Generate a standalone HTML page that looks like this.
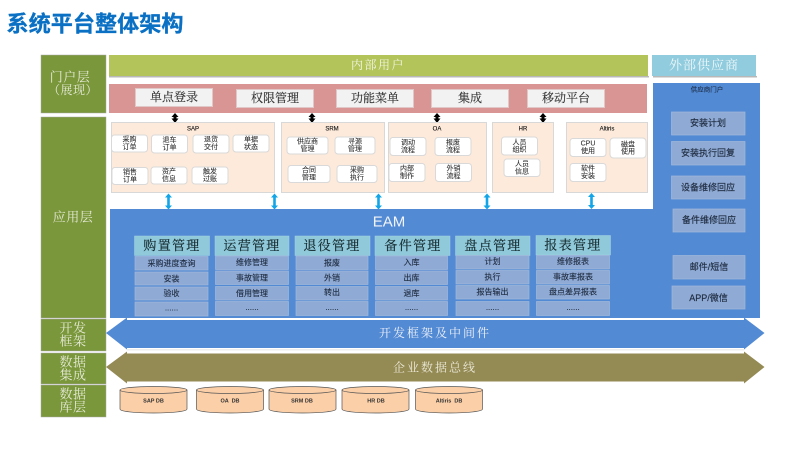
<!DOCTYPE html>
<html lang="zh"><head><meta charset="utf-8"><title>系统平台整体架构</title>
<style>
html,body{margin:0;padding:0;background:#fff}
svg{display:block;font-family:"Liberation Sans","Noto Sans CJK SC",sans-serif;filter:blur(.35px)}
text{text-anchor:middle;dominant-baseline:central}
.se{font-family:"Liberation Serif","Noto Serif CJK SC",serif}
.lay{fill:#7a973b;stroke:#a9a9a9;stroke-width:.5}
.lt{fill:#e6ead8;font-size:13px;letter-spacing:.5px;font-family:"Liberation Serif","Noto Serif CJK SC",serif}
.btn{fill:#f2f2f2;stroke:#e0c8c8;stroke-width:1}
.bt{font-size:12px;fill:#333;font-family:"Liberation Serif","Noto Serif CJK SC",serif;stroke:#333;stroke-width:.15}
.app{fill:#fdeadb;stroke:#d8d8d8;stroke-width:1}
.at{font-size:6px;fill:#111;stroke:#111;stroke-width:.12}
.sm{fill:#fff;stroke:#d9d9d9;stroke-width:1}
.st{font-size:7px;fill:#333;stroke:#333;stroke-width:.1}
.rb{fill:#8faad4;stroke:#a3b8da;stroke-width:.7}
.rt{font-size:9px;fill:#1f2c40;stroke:#1f2c40;stroke-width:.15}
.ch{fill:#8fc9da;stroke:#a5d4e2;stroke-width:.5}
.ct{font-size:13px;letter-spacing:1.3px;fill:#14282c;stroke:#14282c;stroke-width:.15;font-family:"Liberation Serif","Noto Serif CJK SC",serif}
.it{fill:#8faad4;stroke:#a3b8da;stroke-width:.7}
.iit{font-size:8px;fill:#1f2c40;stroke:#1f2c40;stroke-width:.12}
.db{fill:#fbcfa8;stroke:#555;stroke-width:.7}
.dt{font-size:5.500px;font-weight:bold;fill:#333}
</style></head><body>
<svg width="800" height="450" viewBox="0 0 800 450" xmlns="http://www.w3.org/2000/svg">
<defs>
<g id="ka"><path d="M175 113l-3.500 4h2v1.500h-2l3.500 4.500 3.500-4.500h-2V117h2z" fill="#000"/></g>
<g id="cy"><path d="M0 0l-3.500 4h2.200v8h-2.200L0 16l3.500-4H1.300V4h2.200z" fill="#12a5e8"/></g>
<g id="cyl"><path class="db" d="M0 4v19c0 2.500 15 4 33.500 4s33.500-1.500 33.500-4V4"/><ellipse class="db" cx="33.500" cy="4" rx="33.500" ry="3.500"/></g>
</defs>

<text x="95" y="24" style="font-size:22px;font-weight:bold;fill:#0a70c4;stroke:#0a70c4;stroke-width:.3" textLength="177" lengthAdjust="spacingAndGlyphs">系统平台整体架构</text>

<rect class="lay" x="41" y="55" width="65" height="58"/>
<rect class="lay" x="41" y="117" width="65" height="201"/>
<rect class="lay" x="41" y="319" width="65" height="32"/>
<rect class="lay" x="41" y="353" width="65" height="31"/>
<rect class="lay" x="41" y="385" width="65" height="32"/>
<text class="lt" x="70" y="77">门户层</text><text class="lt" x="73" y="90" style="font-size:12px">（展现）</text>
<text class="lt" x="73" y="217">应用层</text>
<text class="lt" x="73" y="328">开发</text><text class="lt" x="73" y="341">框架</text>
<text class="lt" x="73" y="362">数据</text><text class="lt" x="73" y="375">集成</text>
<text class="lt" x="73" y="394">数据</text><text class="lt" x="73" y="407">库层</text>

<rect x="109" y="55" width="539" height="21" fill="#b3c45a"/>
<rect x="109" y="76" width="540" height="1.500" fill="#b8b8b8"/>
<text class="se" x="378" y="65" style="font-size:12px;letter-spacing:1.500px;fill:#f2f5e4">内部用户</text>
<rect x="652" y="55" width="104" height="21" fill="#90ccdd"/>
<rect x="653" y="76" width="104" height="1.500" fill="#b8b8b8"/>
<text class="se" x="704" y="65" style="font-size:13px;letter-spacing:1px;fill:#eef7fa">外部供应商</text>

<rect x="109" y="84" width="538" height="29" fill="#d99594"/>
<rect class="btn" x="135.500" y="88.500" width="77" height="18"/><text class="bt" x="174" y="97">单点登录</text>
<rect class="btn" x="236.500" y="89.500" width="77" height="18"/><text class="bt" x="275" y="98">权限管理</text>
<rect class="btn" x="336.500" y="89.500" width="77" height="18"/><text class="bt" x="375" y="98">功能菜单</text>
<rect class="btn" x="431.500" y="89.500" width="77" height="18"/><text class="bt" x="470" y="98">集成</text>
<rect class="btn" x="527.500" y="89.500" width="77" height="18"/><text class="bt" x="566" y="98">移动平台</text>

<use href="#ka"/><use href="#ka" x="137"/><use href="#ka" x="262"/><use href="#ka" x="368"/>

<path d="M653 83h107v235H110V209h543z" fill="#538ad4"/>
<text x="707" y="90" style="font-size:6.500px;fill:#1c2f4a;stroke:#1c2f4a;stroke-width:.1">供应商门户</text>

<rect class="app" x="111.500" y="122.500" width="163" height="70"/>
<rect class="app" x="281.500" y="122.500" width="103" height="70"/>
<rect class="app" x="388.500" y="122.500" width="98" height="70"/>
<rect class="app" x="492.500" y="122.500" width="61" height="70"/>
<rect class="app" x="566.500" y="122.500" width="81" height="70"/>
<text class="at" x="193" y="129.500">SAP</text><text class="at" x="332" y="129.500">SRM</text><text class="at" x="437" y="129.500">OA</text><text class="at" x="523" y="129.500">HR</text><text class="at" x="607" y="129.500">Altiris</text>

<g>
<rect class="sm" x="111.500" y="135" width="36" height="17" rx="3"/><text class="st" x="129.500" y="140">采购</text><text class="st" x="129.500" y="147.500">订单</text>
<rect class="sm" x="151.500" y="135" width="36" height="18" rx="3"/><text class="st" x="169.500" y="140.500">退车</text><text class="st" x="169.500" y="148">订单</text>
<rect class="sm" x="193" y="135" width="36" height="18" rx="3"/><text class="st" x="211" y="140">退货</text><text class="st" x="211" y="147.500">交付</text>
<rect class="sm" x="233" y="135" width="36" height="17" rx="3"/><text class="st" x="251" y="140">单据</text><text class="st" x="251" y="147.500">状态</text>
<rect class="sm" x="112" y="167.500" width="36" height="17" rx="3"/><text class="st" x="130" y="172.500">销售</text><text class="st" x="130" y="180">订单</text>
<rect class="sm" x="151" y="167" width="36" height="17" rx="3"/><text class="st" x="169" y="172">资产</text><text class="st" x="169" y="179.500">信息</text>
<rect class="sm" x="192" y="167" width="36" height="17" rx="3"/><text class="st" x="210" y="172">触发</text><text class="st" x="210" y="179.500">过账</text>

<rect class="sm" x="287" y="137" width="41" height="17" rx="3"/><text class="st" x="307.500" y="142">供应商</text><text class="st" x="307.500" y="149.500">管理</text>
<rect class="sm" x="335" y="137" width="40" height="17" rx="3"/><text class="st" x="355" y="142">寻源</text><text class="st" x="355" y="149.500">管理</text>
<rect class="sm" x="288" y="165.500" width="42" height="17" rx="3"/><text class="st" x="309" y="170.500">合同</text><text class="st" x="309" y="178">管理</text>
<rect class="sm" x="337" y="165.500" width="40" height="17" rx="3"/><text class="st" x="357" y="170.500">采购</text><text class="st" x="357" y="178">执行</text>

<rect class="sm" x="390" y="137.500" width="36" height="18" rx="3"/><text class="st" x="408" y="143">调动</text><text class="st" x="408" y="150.500">流程</text>
<rect class="sm" x="435" y="137.500" width="36" height="18" rx="3"/><text class="st" x="453" y="143">报废</text><text class="st" x="453" y="150.500">流程</text>
<rect class="sm" x="389" y="163.500" width="36" height="18" rx="3"/><text class="st" x="407" y="169">内部</text><text class="st" x="407" y="176.500">制作</text>
<rect class="sm" x="435.500" y="163.500" width="36" height="18" rx="3"/><text class="st" x="453.500" y="169">外销</text><text class="st" x="453.500" y="176.500">流程</text>

<rect class="sm" x="501.500" y="137" width="36" height="18" rx="3"/><text class="st" x="519.500" y="143">人员</text><text class="st" x="519.500" y="150">组织</text>
<rect class="sm" x="504" y="159" width="36" height="17.500" rx="3"/><text class="st" x="522" y="164.500">人员</text><text class="st" x="522" y="172">信息</text>

<rect class="sm" x="570" y="138.500" width="36" height="18" rx="3"/><text class="st" x="588" y="144">CPU</text><text class="st" x="588" y="151.500">使用</text>
<rect class="sm" x="610" y="138" width="36" height="20" rx="3.500"/><text class="st" x="628" y="145">磁盘</text><text class="st" x="628" y="152">使用</text>
<rect class="sm" x="570" y="163.500" width="36" height="18" rx="3"/><text class="st" x="588" y="169">软件</text><text class="st" x="588" y="176.500">安装</text>
</g>

<use href="#cy" x="168.500" y="193.500"/><use href="#cy" x="274.500" y="193.500"/><use href="#cy" x="378.500" y="193.500"/><use href="#cy" x="487" y="193.500"/><use href="#cy" x="591.500" y="193"/>

<text x="389" y="222" style="font-size:15px;fill:#f1f5fb">EAM</text>

<g>
<rect class="ch" x="134.500" y="236" width="75" height="19.500"/><text class="ct" x="172" y="245.500">购置管理</text>
<rect class="it" x="135" y="256.500" width="73" height="13.500"/><text class="iit" x="171.500" y="263.500">采购进度查询</text>
<rect class="it" x="135" y="272" width="73" height="13"/><text class="iit" x="171.500" y="279">安装</text>
<rect class="it" x="135" y="287" width="73" height="13"/><text class="iit" x="171.500" y="293.500">验收</text>
<rect class="it" x="135" y="302" width="73" height="14"/><text class="iit" x="171.500" y="308">......</text>

<rect class="ch" x="215" y="236" width="74" height="19.500"/><text class="ct" x="252" y="245.500">运营管理</text>
<rect class="it" x="215.500" y="256" width="73" height="13.500"/><text class="iit" x="252" y="262.500">维修管理</text>
<rect class="it" x="215.500" y="271" width="73" height="13.500"/><text class="iit" x="252" y="278">事故管理</text>
<rect class="it" x="215.500" y="286.500" width="73" height="13.500"/><text class="iit" x="252" y="293.500">借用管理</text>
<rect class="it" x="215.500" y="301.500" width="73" height="14"/><text class="iit" x="252" y="307.500">......</text>

<rect class="ch" x="295" y="236" width="75" height="19.500"/><text class="ct" x="332" y="245.500">退役管理</text>
<rect class="it" x="296" y="256" width="72" height="13.500"/><text class="iit" x="332" y="263">报废</text>
<rect class="it" x="296" y="271" width="72" height="13.500"/><text class="iit" x="332" y="278">外销</text>
<rect class="it" x="296" y="286.500" width="72" height="13.500"/><text class="iit" x="332" y="292.500">转出</text>
<rect class="it" x="296" y="301.500" width="72" height="14"/><text class="iit" x="332" y="307.500">......</text>

<rect class="ch" x="375" y="236" width="75" height="19.500"/><text class="ct" x="413" y="245.500">备件管理</text>
<rect class="it" x="375.500" y="256" width="72" height="13.500"/><text class="iit" x="411.500" y="262.500">入库</text>
<rect class="it" x="375.500" y="271" width="72" height="13.500"/><text class="iit" x="411.500" y="278">出库</text>
<rect class="it" x="375.500" y="286.500" width="72" height="13.500"/><text class="iit" x="411.500" y="293.500">退库</text>
<rect class="it" x="375.500" y="301.500" width="72" height="14"/><text class="iit" x="411.500" y="307.500">......</text>

<rect class="ch" x="455.500" y="236" width="74.500" height="19.500"/><text class="ct" x="493" y="245.500">盘点管理</text>
<rect class="it" x="456" y="255.500" width="73" height="13.500"/><text class="iit" x="492.500" y="261.500">计划</text>
<rect class="it" x="456" y="270.500" width="73" height="13.500"/><text class="iit" x="492.500" y="277">执行</text>
<rect class="it" x="456" y="285.500" width="73" height="13.500"/><text class="iit" x="492.500" y="292">报告输出</text>
<rect class="it" x="456" y="301.500" width="73" height="14"/><text class="iit" x="492.500" y="307.500">......</text>

<rect class="ch" x="536" y="235.500" width="74.500" height="19.500"/><text class="ct" x="573" y="245">报表管理</text>
<rect class="it" x="536.500" y="255.500" width="73" height="13.500"/><text class="iit" x="573" y="261.500">维修报表</text>
<rect class="it" x="536.500" y="270.500" width="73" height="13.500"/><text class="iit" x="573" y="277">事故率报表</text>
<rect class="it" x="536.500" y="285.500" width="73" height="13.500"/><text class="iit" x="573" y="292">盘点差异报表</text>
<rect class="it" x="536.500" y="301.500" width="73" height="14"/><text class="iit" x="573" y="307.500">......</text>
</g>

<rect class="rb" x="671.500" y="112" width="73.500" height="23"/><text class="rt" x="708" y="123">安装计划</text>
<rect class="rb" x="671.500" y="141.500" width="73.500" height="23.500"/><text class="rt" x="708" y="153">安装执行回复</text>
<rect class="rb" x="671.500" y="176" width="73.500" height="23"/><text class="rt" x="708" y="187.500">设备维修回应</text>
<rect class="rb" x="673" y="209" width="72" height="23"/><text class="rt" x="709" y="220">备件维修回应</text>
<rect class="rb" x="673" y="255.500" width="72" height="23.500"/><text class="rt" x="709" y="267">邮件/短信</text>
<rect class="rb" x="672" y="286" width="73" height="23"/><text class="rt" x="708.500" y="298">APP/微信</text>

<rect x="127" y="349" width="617" height="1.500" fill="#eeeeee"/>
<path d="M106 333L127 317.500V320H744V317.500L764.500 333L744 349.500V348H127V349.500Z" fill="#538ad4"/>
<text class="se" x="435" y="333" style="font-size:12px;letter-spacing:2px;fill:#edf2fa">开发框架及中间件</text>
<path d="M106 367L127 351.500V353.500H744V351.500L764.500 367L744 383.500V381.500H127V383.500Z" fill="#948a54"/>
<text class="se" x="435" y="367.500" style="font-size:12px;letter-spacing:2px;fill:#ece9d8">企业数据总线</text>

<use href="#cyl" x="120" y="386"/><use href="#cyl" x="196.500" y="386"/><use href="#cyl" x="269" y="386"/><use href="#cyl" x="342" y="386"/><use href="#cyl" x="415.500" y="386"/>
<text class="dt" x="153.500" y="401.500">SAP DB</text><text class="dt" x="230" y="401.500">OA &#160;DB</text><text class="dt" x="302" y="401.500">SRM DB</text><text class="dt" x="376" y="401.500">HR DB</text><text class="dt" x="449" y="401.500">Altiris &#160;DB</text>
</svg>
</body></html>
